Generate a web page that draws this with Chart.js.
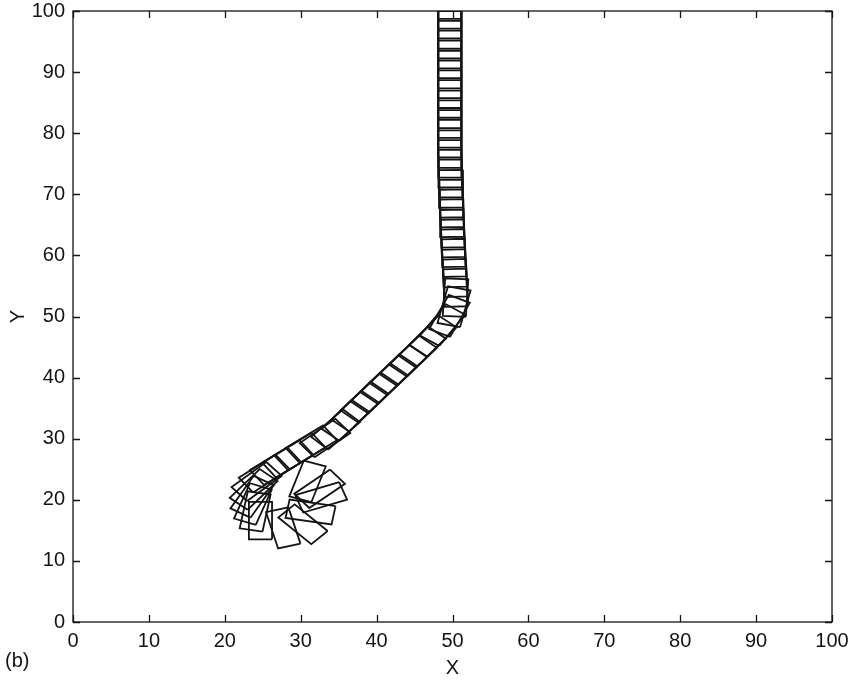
<!DOCTYPE html>
<html>
<head>
<meta charset="utf-8">
<script src="https://cdn.jsdelivr.net/npm/chart.js@4.4.1/dist/chart.umd.min.js"></script>
<style>
  html, body { margin: 0; padding: 0; background: #fff; }
  #wrap { width: 855px; height: 681px; }
</style>
</head>
<body>
<div id="wrap"><canvas id="c" width="855" height="681"></canvas></div>
<script>
// axis ticks
var xTicks = [0, 10, 20, 30, 40, 50, 60, 70, 80, 90, 100];
var yTicks = [0, 10, 20, 30, 40, 50, 60, 70, 80, 90, 100];

// body outline positions: centre x, centre y, heading (deg)
var carX = [
  49.65, 49.65, 49.65, 49.65, 49.65, 49.65, 49.65, 49.65, 49.65, 49.65,
  49.65, 49.65, 49.65, 49.65, 49.65, 49.65, 49.65, 49.65, 49.7, 49.75,
  49.8, 49.85, 49.9, 49.95, 50.0, 50.05, 50.1, 50.2, 50.25, 50.35,
  50.4,
  50.4, 50.2, 49.6, 48.7, 47.4,
  46.0, 44.8, 43.5, 42.2, 41.0, 39.7, 38.4, 37.2, 35.9,
  34.6, 33.2, 31.4, 29.9, 28.3, 26.7, 25.2,
  24.2, 23.8, 23.6, 23.7, 24.0, 24.7,
  27.7, 30.3, 31.3, 32.7, 32.5, 30.9
];
var carY = [
  103.4, 101.8, 100.2, 98.6, 96.9, 95.3, 93.7, 92.1, 90.4, 88.8,
  87.2, 85.6, 83.9, 82.3, 80.7, 79.1, 77.4, 75.8, 74.2, 72.6,
  70.9, 69.3, 67.7, 66.1, 64.4, 62.8, 61.2, 59.6, 57.9, 56.3,
  54.7,
  53.1, 51.6, 50.1, 48.6, 46.8,
  45.0, 43.5, 42.0, 40.5, 39.0, 37.5, 36.0, 34.5, 33.0,
  31.5, 30.1, 29.1, 27.9, 26.7, 25.5, 24.3,
  23.0, 21.7, 20.5, 19.3, 18.1, 16.6,
  15.4, 16.0, 18.0, 20.4, 21.8, 23.0
];
var carHeading = [
  -90, -90, -90, -90, -90, -90, -90, -90, -90, -90,
  -90, -90, -90, -90, -90, -90, -90, -90, -89.5, -89.5,
  -89, -89, -89, -89, -88.5, -88.5, -88.5, -88, -88, -88,
  -88,
  -93, -103, -115, -124, -129,
  -130, -130, -130, -130, -130, -130, -130, -130, -130,
  -133, -140, -143, -143, -143, -143, -142,
  -138, -130, -120, -110, -100, -90,
  -75, -45, -10, 20, 40, 72
];

var CAR_LEN = 6.15;
var CAR_WID = 3.05;
var INK = '#141414';
var FONT = '"Liberation Sans", Arial, Helvetica, sans-serif';

function carOutline(cx, cy, deg) {
  var t = deg * Math.PI / 180;
  var ux = Math.cos(t), uy = Math.sin(t);
  var vx = -uy, vy = ux;
  var hl = CAR_LEN / 2, hw = CAR_WID / 2;
  var corners = [[hl, hw], [hl, -hw], [-hl, -hw], [-hl, hw], [hl, hw]];
  return corners.map(function (c) {
    return { x: cx + c[0] * ux + c[1] * vx, y: cy + c[0] * uy + c[1] * vy };
  });
}

var datasets = carX.map(function (x, i) {
  return {
    data: carOutline(x, carY[i], carHeading[i]),
    showLine: true,
    borderColor: INK,
    borderWidth: 1.8,
    pointRadius: 0,
    fill: false,
    tension: 0
  };
});

// box + inward ticks on all four sides, and the panel letter
var framePlugin = {
  id: 'frame',
  afterDraw: function (chart) {
    var ctx = chart.ctx, a = chart.chartArea;
    var sx = chart.scales.x, sy = chart.scales.y;
    var tl = 7;
    ctx.save();
    ctx.strokeStyle = INK;
    ctx.lineWidth = 1.3;
    ctx.strokeRect(a.left, a.top, a.right - a.left, a.bottom - a.top);
    ctx.beginPath();
    xTicks.forEach(function (v) {
      var px = Math.round(sx.getPixelForValue(v)) + 0.5;
      ctx.moveTo(px, a.bottom); ctx.lineTo(px, a.bottom - tl);
      ctx.moveTo(px, a.top); ctx.lineTo(px, a.top + tl);
    });
    yTicks.forEach(function (v) {
      var py = Math.round(sy.getPixelForValue(v)) + 0.5;
      ctx.moveTo(a.left, py); ctx.lineTo(a.left + tl, py);
      ctx.moveTo(a.right, py); ctx.lineTo(a.right - tl, py);
    });
    ctx.stroke();
    ctx.fillStyle = INK;
    ctx.font = '20px ' + FONT;
    ctx.textAlign = 'left';
    ctx.textBaseline = 'middle';
    ctx.fillText('(b)', 5, 661);
    ctx.restore();
  }
};

new Chart(document.getElementById('c'), {
  type: 'scatter',
  data: { datasets: datasets },
  options: {
    responsive: false,
    animation: false,
    layout: { padding: { left: 0, right: 23, top: 11, bottom: 0 } },
    plugins: { legend: { display: false }, tooltip: { enabled: false } },
    scales: {
      x: {
        type: 'linear', min: 0, max: 100,
        grid: { display: false, drawTicks: false },
        border: { display: false },
        afterBuildTicks: function (s) { s.ticks = xTicks.map(function (v) { return { value: v }; }); },
        afterFit: function (s) { s.height = 59; s.paddingLeft = 0; s.paddingRight = 0; },
        ticks: { color: INK, padding: 9, maxRotation: 0, autoSkip: false, font: { family: FONT, size: 20, lineHeight: 1 } },
        title: { display: true, text: 'X', color: INK, font: { family: FONT, size: 20, lineHeight: 1.2 }, padding: { top: 0, bottom: 1 } }
      },
      y: {
        type: 'linear', min: 0, max: 100,
        grid: { display: false, drawTicks: false },
        border: { display: false },
        afterBuildTicks: function (s) { s.ticks = yTicks.map(function (v) { return { value: v }; }); },
        afterFit: function (s) { s.width = 73; s.paddingTop = 0; s.paddingBottom = 0; },
        ticks: { color: INK, padding: 8, autoSkip: false, font: { family: FONT, size: 20, lineHeight: 1 } },
        title: { display: true, text: 'Y', color: INK, font: { family: FONT, size: 20, lineHeight: 1.2 }, padding: { top: 6, bottom: 0 } }
      }
    }
  },
  plugins: [framePlugin]
});
</script>
</body>
</html>
